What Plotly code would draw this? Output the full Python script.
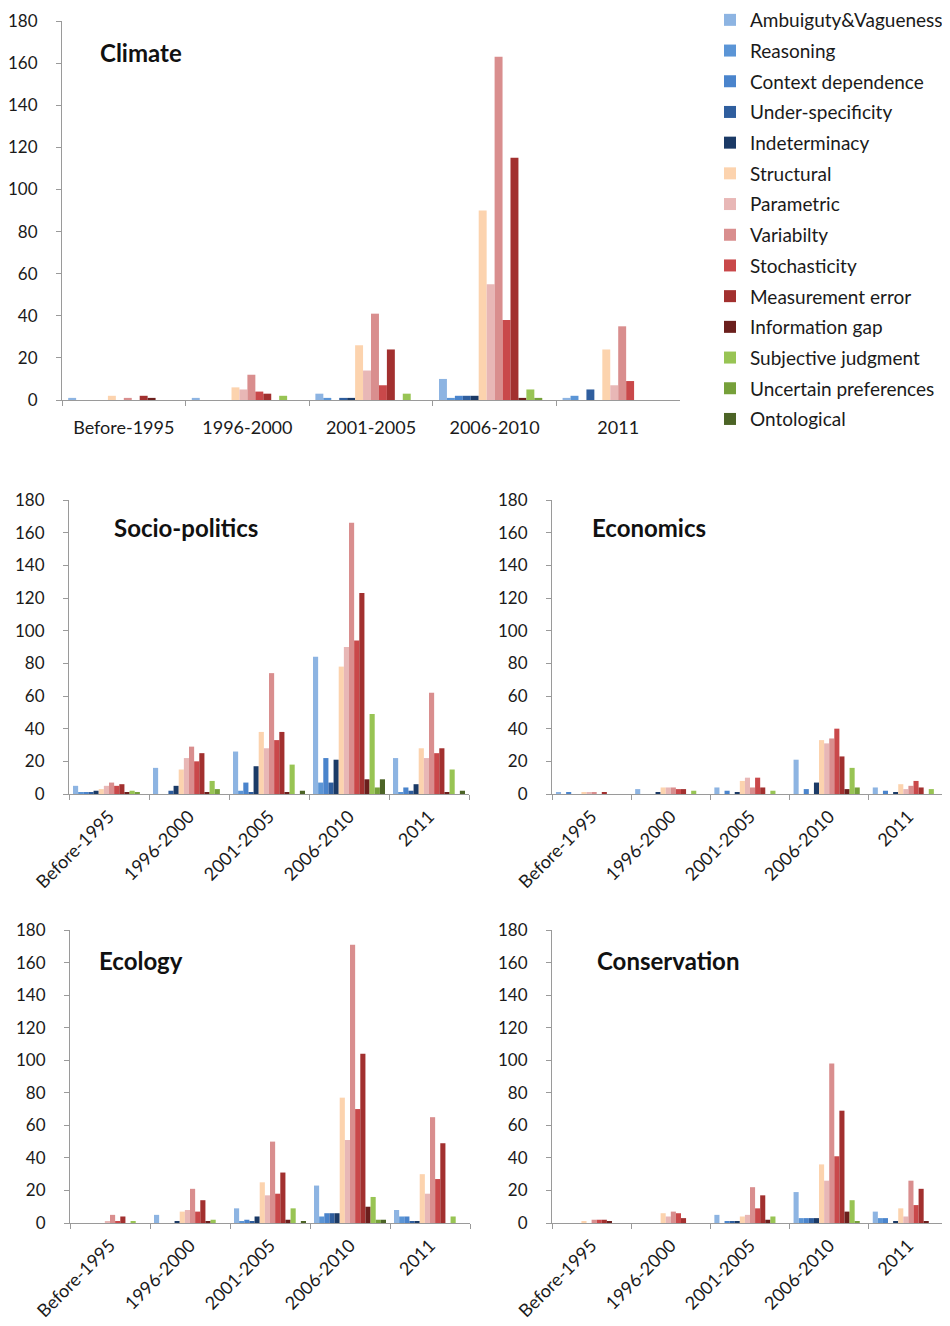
import plotly.graph_objects as go

W, H = 950, 1326
OFF = 8  # page body margin that the browser adds around the figure

periods = ["Before-1995", "1996-2000", "2001-2005", "2006-2010", "2011"]

series_names = [
    "Ambuiguty&Vagueness", "Reasoning", "Context dependence", "Under-specificity",
    "Indeterminacy", "Structural", "Parametric", "Variabilty", "Stochasticity",
    "Measurement error", "Information gap", "Subjective judgment",
    "Uncertain preferences", "Ontological",
]

series_colors = [
    "#8DB4E2", "#5B95D6", "#4A84CC", "#2F5E9E", "#1B3A66", "#FCD3AE", "#E8B7B6",
    "#D98E8E", "#C9484A", "#A2302F", "#6B1F1D", "#98C454", "#76A03A", "#4C6426",
]

# values per series, in order of periods
climate = [
    [1, 1, 3, 10, 1],
    [0, 0, 1, 1, 2],
    [0, 0, 0, 2, 0],
    [0, 0, 1, 2, 5],
    [0, 0, 1, 2, 0],
    [2, 6, 26, 90, 24],
    [0, 5, 14, 55, 7],
    [1, 12, 41, 163, 35],
    [0, 4, 7, 38, 9],
    [2, 3, 24, 115, 0],
    [1, 0, 0, 1, 0],
    [0, 2, 3, 5, 0],
    [0, 0, 0, 1, 0],
    [0, 0, 0, 0, 0],
]

socio_politics = [
    [5, 16, 26, 84, 22],
    [1, 0, 2, 7, 1],
    [1, 0, 7, 22, 4],
    [1, 2, 1, 7, 2],
    [2, 5, 17, 21, 6],
    [3, 15, 38, 78, 28],
    [5, 22, 28, 90, 22],
    [7, 29, 74, 166, 62],
    [5, 20, 33, 94, 25],
    [6, 25, 38, 123, 28],
    [1, 1, 1, 9, 1],
    [2, 8, 18, 49, 15],
    [1, 3, 0, 4, 0],
    [0, 0, 2, 9, 2],
]

economics = [
    [1, 3, 4, 21, 4],
    [0, 0, 0, 0, 0],
    [1, 0, 2, 3, 2],
    [0, 0, 0, 0, 0],
    [0, 1, 1, 7, 1],
    [1, 4, 8, 33, 6],
    [1, 4, 10, 31, 3],
    [1, 4, 4, 34, 5],
    [0, 3, 10, 40, 8],
    [1, 3, 4, 23, 4],
    [0, 0, 0, 3, 0],
    [0, 2, 2, 16, 3],
    [0, 0, 0, 4, 0],
    [0, 0, 0, 0, 0],
]

ecology = [
    [0, 5, 9, 23, 8],
    [0, 0, 1, 4, 4],
    [0, 0, 2, 6, 4],
    [0, 0, 1, 6, 1],
    [0, 1, 4, 6, 1],
    [0, 7, 25, 77, 30],
    [1, 8, 17, 51, 18],
    [5, 21, 50, 171, 65],
    [1, 7, 18, 70, 27],
    [4, 14, 31, 104, 49],
    [0, 1, 2, 10, 0],
    [1, 2, 9, 16, 4],
    [0, 0, 0, 2, 0],
    [0, 0, 1, 2, 0],
]

conservation = [
    [0, 0, 5, 19, 7],
    [0, 0, 0, 3, 3],
    [0, 0, 1, 3, 3],
    [0, 0, 1, 3, 0],
    [0, 0, 1, 3, 1],
    [1, 6, 4, 36, 9],
    [0, 4, 5, 26, 4],
    [2, 7, 22, 98, 26],
    [2, 6, 9, 41, 11],
    [2, 3, 17, 69, 21],
    [1, 0, 2, 7, 1],
    [0, 0, 4, 14, 0],
    [0, 0, 0, 1, 0],
    [0, 0, 0, 0, 0],
]

y_ticks = [0, 20, 40, 60, 80, 100, 120, 140, 160, 180]

FONT = "Lato"
AXIS_COLOR = "#9A9A9A"
TEXT_COLOR = "#1A1A1A"


def px(x):
    return (x - OFF) / W


def py(y):
    return 1 - (y - OFF) / H


# panel name, data, pixel box (x0, x1, ytop, ybottom), title position, rotated labels
panels = [
    ("Climate", climate, (62, 680, 21, 400), (98, 53), False),
    ("Socio-politics", socio_politics, (69, 469, 500, 794), (112, 528), True),
    ("Economics", economics, (552, 948, 500, 794), (590, 528), True),
    ("Ecology", ecology, (70, 470, 930, 1223), (97, 960), True),
    ("Conservation", conservation, (552, 948, 930, 1223), (595, 960), True),
]

fig = go.Figure()
layout = {}
annotations = []

for i, (name, data, box, tpos, rotated) in enumerate(panels):
    idx = "" if i == 0 else str(i + 1)
    xa, ya = "x" + idx, "y" + idx
    for s, vals in enumerate(data):
        fig.add_trace(go.Bar(
            x=periods, y=vals, name=series_names[s],
            marker=dict(color=series_colors[s], line=dict(width=0)),
            xaxis=xa, yaxis=ya,
            showlegend=(i == 0), legendgroup=series_names[s],
        ))
    x0, x1, yt, yb = box
    layout["xaxis" + idx] = dict(
        domain=[px(x0), px(x1)], anchor=ya, type="category", automargin=False,
        showline=True, linecolor=AXIS_COLOR, linewidth=1,
        ticks="outside", tickson="boundaries", ticklen=5, tickcolor=AXIS_COLOR,
        showgrid=False, zeroline=False, fixedrange=True,
        tickangle=-45 if rotated else 0,
        ticklabelstandoff=4 if rotated else 11,
        ticklabeloverflow="allow",
        tickfont=dict(family=FONT, size=18, color=TEXT_COLOR),
    )
    layout["yaxis" + idx] = dict(
        domain=[py(yb), py(yt)], anchor=xa, range=[0, 180], automargin=False,
        tickvals=y_ticks, showline=True, linecolor=AXIS_COLOR, linewidth=1,
        ticks="outside", ticklen=5, tickcolor=AXIS_COLOR,
        showgrid=False, zeroline=False,
        tickfont=dict(family=FONT, size=17, color=TEXT_COLOR),
        ticklabelstandoff=15, ticklabeloverflow="allow",
    )
    annotations.append(dict(
        text="<b>" + name + "</b>", x=px(tpos[0]), y=py(tpos[1]),
        xref="paper", yref="paper", xanchor="left", yanchor="middle",
        showarrow=False, font=dict(family=FONT, size=24, color="#111111"),
    ))

fig.update_layout(
    width=W, height=H,
    margin=dict(l=0, r=0, t=0, b=0, autoexpand=False),
    paper_bgcolor="white", plot_bgcolor="white",
    barmode="group", bargap=0.1, bargroupgap=0,
    showlegend=True,
    legend=dict(
        x=px(710), y=py(1), xanchor="left", yanchor="top",
        font=dict(family=FONT, size=19, color=TEXT_COLOR),
        tracegroupgap=3, itemwidth=30, bgcolor="rgba(0,0,0,0)",
    ),
    annotations=annotations,
    **layout,
)

fig.write_html("out.html")
